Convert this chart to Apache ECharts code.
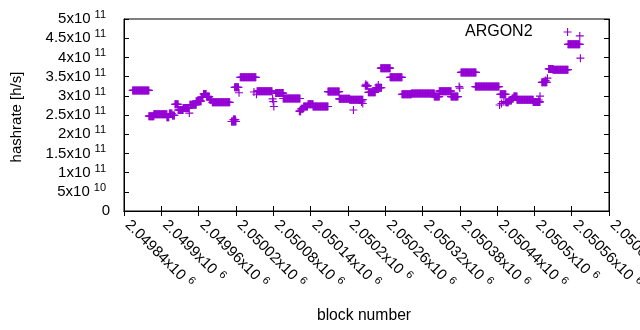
<!DOCTYPE html>
<html>
<head>
<meta charset="utf-8">
<script src="https://cdn.jsdelivr.net/npm/echarts@6/dist/echarts.min.js"></script>
<style>
  html, body { margin: 0; padding: 0; background: #fff; }
  #chart { width: 640px; height: 330px; }
</style>
</head>
<body>
<div id="chart"></div>
<script>
// runs of blocks where the hashrate stays flat (first block, last block, h/s)
var runStart = [2049854, 2049880, 2049888, 2049909, 2049913, 2049918, 2049922, 2049927, 2049935,
	2049946, 2049956, 2049964, 2049968, 2049973, 2049978, 2049982, 2050013, 2050016, 2050018,
	2050027, 2050054, 2050084, 2050096, 2050122, 2050125, 2050129, 2050136, 2050144, 2050168,
	2050186, 2050203, 2050228, 2050233, 2050245, 2050253, 2050268, 2050287, 2050302, 2050339,
	2050347, 2050366, 2050382, 2050405, 2050445, 2050454, 2050459, 2050464, 2050467, 2050472,
	2050498, 2050512, 2050523, 2050530, 2050554];
var runEnd = [2049880, 2049888, 2049909, 2049912, 2049917, 2049921, 2049927, 2049935, 2049944,
	2049956, 2049964, 2049967, 2049972, 2049977, 2049981, 2050010, 2050020, 2050019, 2050024,
	2050052, 2050078, 2050096, 2050123, 2050124, 2050128, 2050135, 2050144, 2050168, 2050186,
	2050203, 2050224, 2050232, 2050244, 2050254, 2050268, 2050287, 2050302, 2050339, 2050347,
	2050366, 2050377, 2050406, 2050443, 2050454, 2050458, 2050463, 2050466, 2050472, 2050498,
	2050509, 2050520, 2050530, 2050554, 2050573];
var runRate = [3.14e11, 2.47e11, 2.52e11, 2.44e11, 2.54e11, 2.49e11, 2.78e11, 2.63e11, 2.68e11,
	2.77e11, 2.86e11, 2.97e11, 3.05e11, 2.98e11, 2.90e11, 2.83e11, 2.33e11, 2.38e11, 3.22e11,
	3.48e11, 3.12e11, 3.07e11, 2.93e11, 2.60e11, 2.66e11, 2.72e11, 2.78e11, 2.72e11, 3.11e11,
	2.92e11, 2.90e11, 3.26e11, 3.09e11, 3.21e11, 3.72e11, 3.48e11, 3.04e11, 3.06e11, 2.98e11,
	3.12e11, 2.98e11, 3.61e11, 3.24e11, 3.04e11, 2.83e11, 2.88e11, 2.93e11, 2.98e11, 2.90e11,
	2.84e11, 3.35e11, 3.70e11, 3.68e11, 4.34e11];
// single outlying blocks
var pointBlock = [2049945, 2050025, 2050049, 2050053, 2050079, 2050080, 2050081, 2050209,
	2050222, 2050224, 2050229, 2050249, 2050379, 2050380, 2050444, 2050447, 2050451, 2050507,
	2050509, 2050518, 2050521, 2050573, 2050574];
var pointRate = [2.55e11, 3.08e11, 3.10e11, 3.04e11, 2.92e11, 2.85e11, 2.72e11, 2.63e11,
	2.84e11, 2.80e11, 3.30e11, 3.28e11, 3.24e11, 3.20e11, 2.76e11, 2.80e11, 2.85e11, 2.89e11,
	2.99e11, 3.40e11, 3.46e11, 4.56e11, 3.98e11];

var seriesName = 'ARGON2';
var xMin = 2049840, xMax = 2050620, xStep = 60;
var yMin = 0, yMax = 5e11, yStep = 5e10;

var data = [];
for (var i = 0; i < runStart.length; i++) {
	for (var b = runStart[i]; b <= runEnd[i]; b++) {
		data.push([b, runRate[i]]);
	}
}
for (var j = 0; j < pointBlock.length; j++) {
	data.push([pointBlock[j], pointRate[j]]);
}

var font = 'Liberation Sans, Arial, sans-serif';
var plus = 'path://M3,0h1v3h3v1h-3v3h-1v-3h-3v-1h3z';

function sciLabel(v) {
	if (v === 0) {
		return '{b|0}';
	}
	var e = Math.floor(Math.log10(v) + 1e-9);
	var m = +(v / Math.pow(10, e)).toFixed(6);
	return '{b|' + m + 'x10}{s|' + e + '}';
}
var richY = {
	b: { fontSize: 15, fontFamily: font, color: '#000', lineHeight: 16 },
	s: { fontSize: 11, fontFamily: font, color: '#000', lineHeight: 11, padding: [0, 4, 8, 4] }
};
var richX = {
	b: { fontSize: 15, fontFamily: font, color: '#000', lineHeight: 16, padding: [0, 0, 0, 5] },
	s: { fontSize: 11, fontFamily: font, color: '#000', lineHeight: 11, padding: [0, 4, 8, 5] }
};

var myChart = echarts.init(document.getElementById('chart'), null, { renderer: 'canvas' });
var option = {
	animation: false,
	backgroundColor: '#fff',
	grid: {
		left: 124, right: 31, top: 19, bottom: 119,
		outerBoundsMode: 'none',
		show: true, borderColor: '#000', borderWidth: 1, backgroundColor: 'transparent'
	},
	legend: {
		left: 465, top: 24, padding: 0,
		align: 'right',
		selectedMode: false,
		icon: plus, itemWidth: 8, itemHeight: 8,
		textStyle: { fontSize: 16, fontFamily: font, color: '#000', padding: [0, 26, 0, 0] },
		data: [seriesName]
	},
	xAxis: [
		{
			type: 'value', min: xMin, max: xMax, interval: xStep,
			axisLine: { show: true, lineStyle: { color: '#000' } },
			axisTick: { show: true, inside: true, length: 5, lineStyle: { color: '#000' } },
			splitLine: { show: false },
			axisLabel: {
				rotate: -45, margin: 8, showMinLabel: true, showMaxLabel: true,
				formatter: sciLabel, rich: richX
			}
		},
		{
			type: 'value', position: 'top', min: xMin, max: xMax, interval: xStep,
			axisLine: { show: true, lineStyle: { color: '#000' } },
			axisTick: { show: true, inside: true, length: 5, lineStyle: { color: '#000' } },
			splitLine: { show: false },
			axisLabel: { show: false }
		}
	],
	yAxis: [
		{
			type: 'value', min: yMin, max: yMax, interval: yStep,
			axisLine: { show: true, lineStyle: { color: '#000' } },
			axisTick: { show: true, inside: true, length: 5, lineStyle: { color: '#000' } },
			splitLine: { show: false },
			axisLabel: { margin: 14, formatter: sciLabel, rich: richY }
		},
		{
			type: 'value', position: 'right', min: yMin, max: yMax, interval: yStep,
			axisLine: { show: true, lineStyle: { color: '#000' } },
			axisTick: { show: true, inside: true, length: 5, lineStyle: { color: '#000' } },
			splitLine: { show: false },
			axisLabel: { show: false }
		}
	],
	graphic: [
		{
			type: 'text', x: 17, y: 117, rotation: Math.PI / 2,
			style: { text: 'hashrate [h/s]', fontSize: 15, fontFamily: font, fill: '#000',
				align: 'center', verticalAlign: 'middle' }
		},
		{
			type: 'text', x: 364, y: 316,
			style: { text: 'block number', fontSize: 15.7, fontFamily: font, fill: '#000',
				align: 'center', verticalAlign: 'middle' }
		}
	],
	series: [
		{
			name: seriesName,
			type: 'scatter',
			symbol: plus,
			symbolSize: 8,
			itemStyle: { color: '#9400d3', opacity: 1 },
			silent: true,
			data: data
		}
	]
};
myChart.setOption(option);
</script>
</body>
</html>
